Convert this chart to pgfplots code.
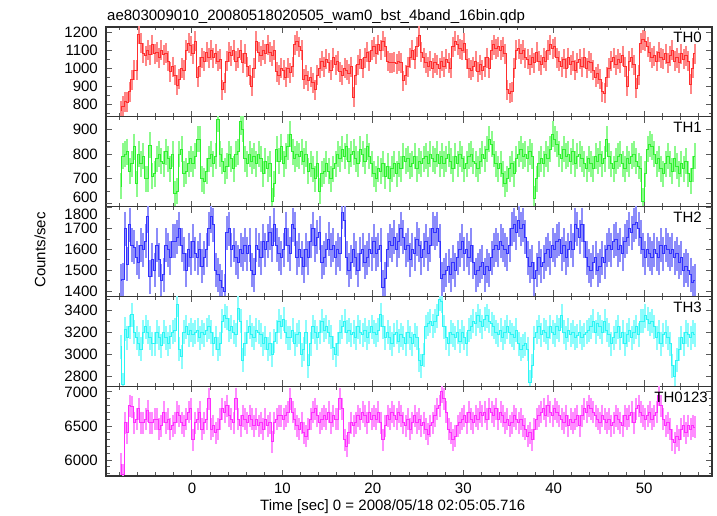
\documentclass[border=0pt]{standalone}
\usepackage{fontspec}
\setmainfont{Liberation Sans}
\usepackage{pgfplots}
\usepackage{pgfplotstable}
\pgfplotsset{compat=1.18}
\definecolor{cR}{RGB}{255,45,45}\definecolor{cRl}{RGB}{255,135,135}
\definecolor{cG}{RGB}{45,240,45}\definecolor{cGl}{RGB}{140,250,140}
\definecolor{cB}{RGB}{50,50,255}\definecolor{cBl}{RGB}{140,140,250}
\definecolor{cC}{RGB}{45,245,245}\definecolor{cCl}{RGB}{140,252,252}
\definecolor{cM}{RGB}{255,45,255}\definecolor{cMl}{RGB}{255,140,255}
\newcommand{\fs}{\fontsize{15}{17}\selectfont}

\pgfplotstableread{
t a b c d e
-7.875 765 670 1450 3070 5940
-7.625 790 790 1455 2730 5780
-7.375 815 800 1700 3230 6550
-7.125 810 810 1530 3150 6400
-6.875 870 730 1720 3250 6800
-6.625 935 760 1620 3360 6780
-6.375 990 830 1610 3200 6550
-6.125 990 680 1560 3150 6600
-5.875 1190 800 1540 3100 6750
-5.625 1140 760 1620 3050 6550
-5.375 1085 790 1600 3200 6550
-5.125 1070 700 1640 3250 6600
-4.875 1100 700 1760 3200 6720
-4.625 1075 835 1470 3150 6550
-4.375 1130 710 1550 3100 6550
-4.125 1080 720 1500 3100 6600
-3.875 1090 780 1620 3200 6600
-3.625 1060 800 1550 3150 6450
-3.375 1100 770 1450 3080 6500
-3.125 1075 760 1480 3200 6700
-2.875 1085 810 1620 3150 6550
-2.625 1040 780 1600 3100 6600
-2.375 980 740 1560 3160 6450
-2.125 1010 800 1640 3200 6500
-1.875 960 640 1640 3220 6550
-1.625 905 650 1660 3450 6700
-1.375 940 800 1700 3050 6650
-1.125 1000 820 1620 2980 6550
-0.875 990 720 1580 3200 6500
-0.625 1100 730 1500 3250 6600
-0.375 1140 760 1600 3180 6700
-0.125 1125 780 1560 3220 6750
0.125 1080 760 1640 3180 6300
0.375 1150 790 1580 3200 6550
0.625 950 860 1560 3220 6600
0.875 1010 860 1600 3150 6700
1.125 1060 700 1520 3200 6450
1.375 1040 690 1560 3180 6550
1.625 1090 730 1600 3220 6600
1.875 1060 780 1700 3250 6900
2.125 1100 800 1760 3200 6450
2.375 1060 760 1720 3100 6500
2.625 1080 790 1500 3150 6400
2.875 1040 940 1480 3050 6450
3.125 1050 800 1450 3100 6600
3.375 880 770 1420 3300 6750
3.625 920 730 1400 3350 6700
3.875 1040 750 1680 3330 6800
4.125 1090 800 1700 3220 6650
4.375 1070 780 1600 3250 6600
4.625 1100 740 1620 3200 6550
4.875 1040 800 1560 3180 6900
5.125 1060 810 1540 3420 6600
5.375 1100 930 1600 3300 6500
5.625 1030 900 1580 2950 6650
5.875 1080 780 1620 3100 6600
6.125 1010 760 1580 3200 6550
6.375 960 800 1620 3250 6650
6.625 900 770 1500 3180 6600
6.875 1000 790 1480 3150 6500
7.125 1150 760 1620 3220 6600
7.375 1090 800 1600 3200 6500
7.625 1070 780 1560 3180 6550
7.875 1100 720 1640 3100 6450
8.125 1080 770 1600 3150 6600
8.375 1130 740 1640 3050 6500
8.625 1090 760 1680 3100 6550
8.875 1070 610 1620 3000 6270
9.125 1100 680 1720 3120 6550
9.375 980 820 1620 3200 6600
9.625 960 770 1580 3300 6650
9.875 1000 830 1560 3250 6650
10.125 990 760 1600 3320 6600
10.375 950 790 1700 3200 6650
10.625 1000 830 1620 3150 6700
10.875 975 880 1580 3150 6900
11.125 1010 810 1720 3220 6700
11.375 1130 780 1700 3100 6600
11.625 1150 800 1560 3180 6500
11.875 1120 790 1600 3200 6450
12.125 1100 810 1560 3000 6550
12.375 940 770 1520 3050 6400
12.625 960 800 1600 3200 6350
12.875 930 730 1560 2900 6450
13.125 950 760 1640 3100 6600
13.375 920 740 1700 3250 6700
13.625 880 700 1620 3200 6750
13.875 960 760 1660 3150 6650
14.125 1000 650 1680 3200 6550
14.375 1040 720 1540 3300 6600
14.625 1010 730 1560 3220 6650
14.875 1050 760 1600 3250 6600
15.125 1030 730 1650 3200 6700
15.375 990 700 1600 3160 6550
15.625 1060 740 1620 3060 6650
15.875 1020 760 1560 3000 6600
16.125 1040 800 1600 3100 6600
16.375 980 780 1580 3200 6900
16.625 960 820 1780 3250 6750
16.875 1000 790 1740 3300 6300
17.125 990 830 1560 3200 6200
17.375 970 770 1500 3220 6400
17.625 1010 800 1540 3180 6550
17.875 840 810 1600 3200 6500
18.125 960 780 1560 3150 6550
18.375 1020 760 1500 3250 6650
18.625 1050 820 1580 3200 6600
18.875 1000 800 1600 3180 6700
19.125 1060 770 1540 3220 6650
19.375 1090 830 1560 3150 6550
19.625 1040 790 1600 3200 6700
19.875 1100 760 1580 3250 6600
20.125 1120 720 1640 3200 6650
20.375 1080 700 1580 3180 6600
20.625 1130 740 1600 3220 6700
20.875 1100 730 1620 3360 6550
21.125 1150 760 1420 3250 6300
21.375 1120 710 1460 3150 6500
21.625 1040 750 1600 3200 6650
21.875 1030 700 1640 3150 6600
22.125 1030 740 1620 3100 6700
22.375 1035 760 1660 3180 6650
22.625 1025 720 1600 3200 6600
22.875 1040 760 1640 3120 6700
23.125 1030 740 1700 3180 6650
23.375 930 790 1660 3150 6550
23.625 960 770 1600 3100 6500
23.875 1010 780 1620 3200 6600
24.125 1060 750 1550 3150 6450
24.375 1100 760 1600 3100 6550
24.625 1050 790 1580 3180 6650
24.875 1120 740 1650 3150 6550
25.125 1180 770 1620 2950 6600
25.375 1090 760 1560 2900 6500
25.625 1060 780 1600 3000 6550
25.875 1030 790 1640 3250 6450
26.125 1010 760 1580 3280 6380
26.375 1040 800 1620 3300 6500
26.625 1000 780 1700 3260 6550
26.875 1030 770 1680 3300 6650
27.125 1020 800 1700 3350 6750
27.375 1000 760 1640 3500 6800
27.625 1040 790 1460 3480 7000
27.875 1010 760 1480 3250 6900
28.125 1050 780 1500 3150 6700
28.375 1030 800 1520 3100 6450
28.625 1000 770 1480 3200 6400
28.875 1120 740 1540 3180 6300
29.125 1150 790 1500 3150 6350
29.375 1130 760 1560 3200 6500
29.625 1110 800 1600 3120 6550
29.875 1100 780 1640 3200 6600
30.125 1140 740 1580 3150 6650
30.375 1050 760 1600 3100 6550
30.625 1000 790 1560 3220 6700
30.875 990 800 1620 3250 6600
31.125 1010 770 1540 3300 6550
31.375 1040 760 1480 3280 6650
31.625 980 740 1500 3350 6600
31.875 1020 770 1520 3300 6700
32.125 990 800 1540 3250 6650
32.375 1010 780 1480 3320 6700
32.625 1060 820 1520 3350 6600
32.875 1000 860 1500 3300 6750
33.125 1100 840 1560 3280 6700
33.375 1130 800 1600 3250 6650
33.625 1110 760 1620 3200 6750
33.875 1120 740 1600 3180 6600
34.125 1100 760 1640 3220 6700
34.375 1120 720 1620 3150 6650
34.625 1080 680 1600 3200 6550
34.875 880 700 1580 3250 6600
35.125 860 740 1620 3200 6500
35.375 870 760 1700 3180 6550
35.625 1000 720 1720 3150 6650
35.875 1100 780 1680 3220 6600
36.125 1110 800 1740 3100 6550
36.375 1080 820 1700 3050 6600
36.625 1100 790 1720 3080 6500
36.875 1060 800 1660 3100 6450
37.125 1050 780 1560 3050 6350
37.375 1020 810 1520 2750 6400
37.625 1060 790 1540 2900 6300
37.875 1030 620 1460 3150 6450
38.125 1090 700 1500 3200 6600
38.375 1040 760 1560 3250 6650
38.625 1020 780 1520 3180 6700
38.875 1060 760 1540 3220 6750
39.125 1040 800 1580 3200 6650
39.375 1100 780 1600 3150 6800
39.625 1130 820 1560 3250 6700
39.875 1110 880 1620 3200 6650
40.125 1120 860 1600 3180 6750
40.375 1060 840 1640 3250 6700
40.625 1040 800 1650 3220 6650
40.875 1010 780 1580 3350 6600
41.125 1050 820 1620 3200 6550
41.375 1000 790 1560 3150 6650
41.625 1060 800 1600 3220 6500
41.875 1020 770 1640 3180 6600
42.125 1040 810 1600 3200 6550
42.375 990 760 1720 3150 6600
42.625 1030 790 1700 3170 6650
42.875 1050 800 1660 3200 6500
43.125 1010 780 1720 3150 6650
43.375 1060 760 1640 3180 6750
43.625 1000 740 1560 3200 6700
43.875 1040 780 1520 3220 6800
44.125 1030 760 1500 3250 6750
44.375 990 740 1540 3300 6700
44.625 950 790 1560 3200 6650
44.875 970 770 1500 3280 6600
45.125 940 800 1520 3250 6550
45.375 870 760 1560 3200 6650
45.625 860 780 1540 3300 6600
45.875 950 860 1600 3220 6550
46.125 1000 790 1620 3180 6600
46.375 1040 760 1600 3100 6500
46.625 1060 740 1640 3150 6550
46.875 1020 770 1650 3200 6650
47.125 1050 790 1600 3250 6600
47.375 1030 800 1620 3150 6550
47.625 1070 760 1580 3200 6500
47.875 1010 740 1640 3100 6650
48.125 900 780 1660 3180 6600
48.375 1040 760 1700 3220 6650
48.625 1060 790 1680 3150 6700
48.875 1020 800 1720 3200 6550
49.125 890 770 1730 3250 6750
49.375 960 750 1700 3180 6800
49.625 1140 740 1660 3300 6700
49.875 1160 610 1600 3300 6650
50.125 1150 720 1560 3350 6600
50.375 1120 820 1600 3320 6650
50.625 1090 840 1580 3280 6700
50.875 1060 830 1560 3300 6600
51.125 1070 800 1600 3250 6650
51.375 1040 760 1580 3150 6700
51.625 1090 780 1560 3200 6950
51.875 1060 740 1620 3100 6800
52.125 1050 720 1580 3180 6600
52.375 1080 760 1620 3200 6500
52.625 1030 790 1600 3150 6550
52.875 1070 760 1580 3100 6450
53.125 1100 730 1600 2900 6300
53.375 1040 780 1560 2800 6250
53.625 1060 750 1580 2950 6350
53.875 1030 720 1540 3050 6300
54.125 1080 760 1560 3150 6450
54.375 1050 740 1500 3100 6500
54.625 1070 770 1520 3200 6400
54.875 1040 720 1500 3180 6500
55.125 910 690 1480 3150 6450
55.375 1000 740 1440 3200 6500
55.625 1080 790 1450 3180 6480
}\lc

\pgfplotsset{
  panel/.style={
    scale only axis, width=606pt, height=89.8pt,
    anchor=south west,
    xmin=-9.5, xmax=57.5,
    xtick={0,10,20,30,40,50},
    minor xtick={-8,-6,-4,-2,2,4,6,8,12,14,16,18,22,24,26,28,32,34,36,38,42,44,46,48,52,54,56},
    xticklabels={},
    tick align=inside,
    major tick length=6pt, minor tick length=3.5pt,
    axis line style={black!80, line width=1.1pt},
    every tick/.style={black!65, line width=0.9pt},
    tick label style={font=\fs, inner sep=0pt},
    yticklabel style={xshift=-8pt},
    /pgf/number format/assume math mode=true,
    /pgf/number format/1000 sep={},
    clip marker paths=true,
  },
}

\begin{document}
\begin{tikzpicture}
\useasboundingbox (0,0) rectangle (717pt,516pt);

\begin{axis}[panel, at={(106pt,399.2pt)}, ymin=730, ymax=1230,
  ytick={800,900,1000,1100,1200}, minor ytick={750,850,950,1050,1150}]
  \addplot[only marks, mark=|, mark size=10pt, mark options={draw=cRl, line width=2pt}] table[x=t,y=a]{\lc};
  \addplot[cR, line width=1pt, const plot mark mid, mark=none] table[x=t,y=a]{\lc};
  \node[anchor=north east, inner sep=0pt, font=\fs, xshift=-10pt, yshift=-5pt] at (rel axis cs:1,1) {TH0};
\end{axis}

\begin{axis}[panel, at={(106pt,309.4pt)}, ymin=588, ymax=950,
  ytick={700,800,900}, minor ytick={650,750,850},
  extra y ticks={600}, extra y tick style={yticklabel style={yshift=6.5pt}}]
  \addplot[only marks, mark=|, mark size=13pt, mark options={draw=cGl, line width=2pt}] table[x=t,y=b]{\lc};
  \addplot[cG, line width=1pt, const plot mark mid, mark=none] table[x=t,y=b]{\lc};
  \node[anchor=north east, inner sep=0pt, font=\fs, xshift=-10pt, yshift=-5pt] at (rel axis cs:1,1) {TH1};
\end{axis}

\begin{axis}[panel, at={(106pt,219.6pt)}, ymin=1375, ymax=1806,
  ytick={1400,1500,1600,1700}, minor ytick={1450,1550,1650,1750},
  extra y ticks={1800}, extra y tick style={yticklabel style={yshift=-6.5pt}}]
  \addplot[only marks, mark=|, mark size=17pt, mark options={draw=cBl, line width=2pt}] table[x=t,y=c]{\lc};
  \addplot[cB, line width=1pt, const plot mark mid, mark=none] table[x=t,y=c]{\lc};
  \node[anchor=north east, inner sep=0pt, font=\fs, xshift=-10pt, yshift=-5pt] at (rel axis cs:1,1) {TH2};
\end{axis}

\begin{axis}[panel, at={(106pt,129.8pt)}, ymin=2715, ymax=3525,
  ytick={2800,3000,3200,3400}, minor ytick={2900,3100,3300,3500}]
  \addplot[only marks, mark=|, mark size=12pt, mark options={draw=cCl, line width=2pt}] table[x=t,y=d]{\lc};
  \addplot[cC, line width=1pt, const plot mark mid, mark=none] table[x=t,y=d]{\lc};
  \node[anchor=north east, inner sep=0pt, font=\fs, xshift=-10pt, yshift=-5pt] at (rel axis cs:1,1) {TH3};
\end{axis}

\begin{axis}[panel, at={(106pt,40pt)}, ymin=5765, ymax=7084,
  ytick={6000,6500,7000}, minor ytick={5800,5900,6100,6200,6300,6400,6600,6700,6800,6900},
  xticklabels={0,10,20,30,40,50}, xticklabel style={yshift=-7pt}]
  \addplot[only marks, mark=|, mark size=11pt, mark options={draw=cMl, line width=2pt}] table[x=t,y=e]{\lc};
  \addplot[cM, line width=1pt, const plot mark mid, mark=none] table[x=t,y=e]{\lc};
  \node[anchor=north east, inner sep=0pt, font=\fs, xshift=-4pt, yshift=-6pt] at (rel axis cs:1,1) {TH0123};
\end{axis}

\node[anchor=base west, inner sep=0pt, font=\fs] at (107pt,495pt)
  {ae803009010\_20080518020505\_wam0\_bst\_4band\_16bin.qdp};
\node[anchor=base west, inner sep=0pt, font=\fs] at (260pt,5.5pt)
  {Time [sec] 0 = 2008/05/18 02:05:05.716};
\node[rotate=90, inner sep=0pt, font=\fs] at (40pt,266pt) {Counts/sec};
\end{tikzpicture}
\end{document}
